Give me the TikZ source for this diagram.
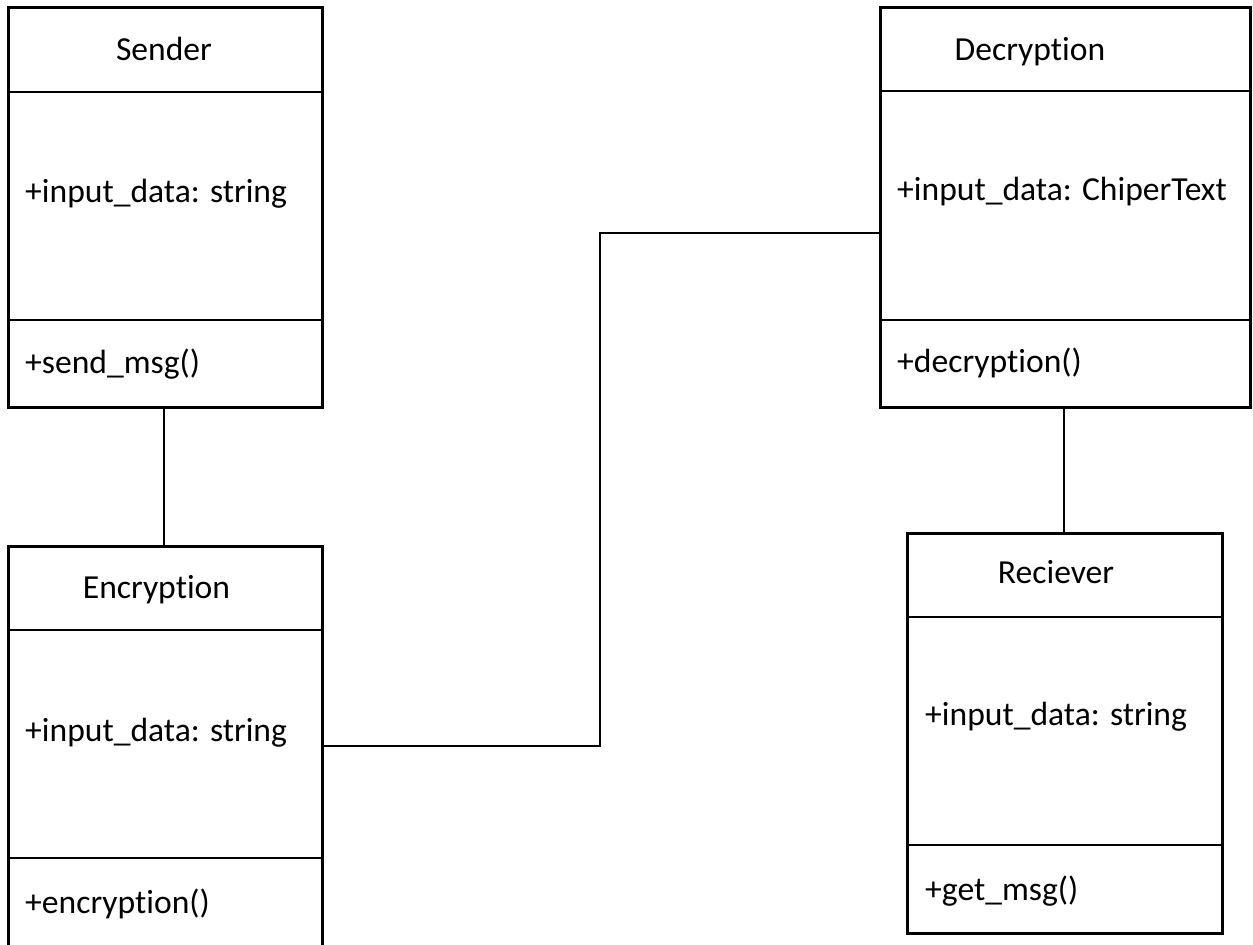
\documentclass[tikz,border=0pt]{standalone}
\usepackage{fontspec}
\setmainfont{Carlito}[Ligatures={NoCommon,NoRequired,NoContextual}]
\begin{document}
\begin{tikzpicture}[x=1pt,y=-1pt,
  classbox/.style={draw=black,line width=3pt,rectangle,inner sep=0pt,outer sep=0pt,fill=white},
  divider/.style={draw=black,line width=2pt},
  conn/.style={draw=black,line width=2pt},
  lbl/.style={inner sep=0pt,font=\fontsize{33.6}{38}\selectfont}]
\useasboundingbox[fill=white] (0,0) rectangle (1253,945);
% class boxes
\node[classbox,minimum width=314.5pt,minimum height=400pt] (sender) at (165.25,207) {};
\node[classbox,minimum width=314.5pt,minimum height=414pt] (enc) at (165.25,753) {};
\node[classbox,minimum width=370pt,minimum height=400pt] (dec) at (1065,207) {};
\node[classbox,minimum width=315pt,minimum height=400pt] (rec) at (1064.5,733) {};
% dividers
\draw[divider] (sender.west |- 0,92) -- (sender.east |- 0,92);
\draw[divider] (sender.west |- 0,320) -- (sender.east |- 0,320);
\draw[divider] (enc.west |- 0,630) -- (enc.east |- 0,630);
\draw[divider] (enc.west |- 0,858) -- (enc.east |- 0,858);
\draw[divider] (dec.west |- 0,91) -- (dec.east |- 0,91);
\draw[divider] (dec.west |- 0,320) -- (dec.east |- 0,320);
\draw[divider] (rec.west |- 0,617) -- (rec.east |- 0,617);
\draw[divider] (rec.west |- 0,845) -- (rec.east |- 0,845);
% texts
\node[lbl,anchor=base] (sendert) at (164,60) {Sender};
\node[lbl,anchor=base west] (sendera) at (25,202) {+input\_data: string};
\node[lbl,anchor=base west] (senderm) at (25,373) {+send\_msg()};
\node[lbl,anchor=base] (enct) at (156.5,598) {Encryption};
\node[lbl,anchor=base west] (enca) at (25,741) {+input\_data: string};
\node[lbl,anchor=base west] (encm) at (25,913) {+encryption()};
\node[lbl,anchor=base] (dect) at (1030,60) {Decryption};
\node[lbl,anchor=base west] (deca) at (897,200) {+input\_data: ChiperText};
\node[lbl,anchor=base west] (decm) at (897,372) {+decryption()};
\node[lbl,anchor=base] (rect) at (1056,583) {Reciever};
\node[lbl,anchor=base west] (reca) at (925,725) {+input\_data: string};
\node[lbl,anchor=base west] (recm) at (925,900) {+get\_msg()};
% connectors
\coordinate (j1) at (600,746);
\coordinate (j2) at (600,233);
\draw[conn] (sender.south -| 164,0) -- (enc.north -| 164,0);
\draw[conn] (enc.east |- j1) -- (j1) -- (j2) -- (dec.west |- j2);
\draw[conn] (dec.south -| 1063.5,0) -- (rec.north -| 1063.5,0);
\end{tikzpicture}
\end{document}
